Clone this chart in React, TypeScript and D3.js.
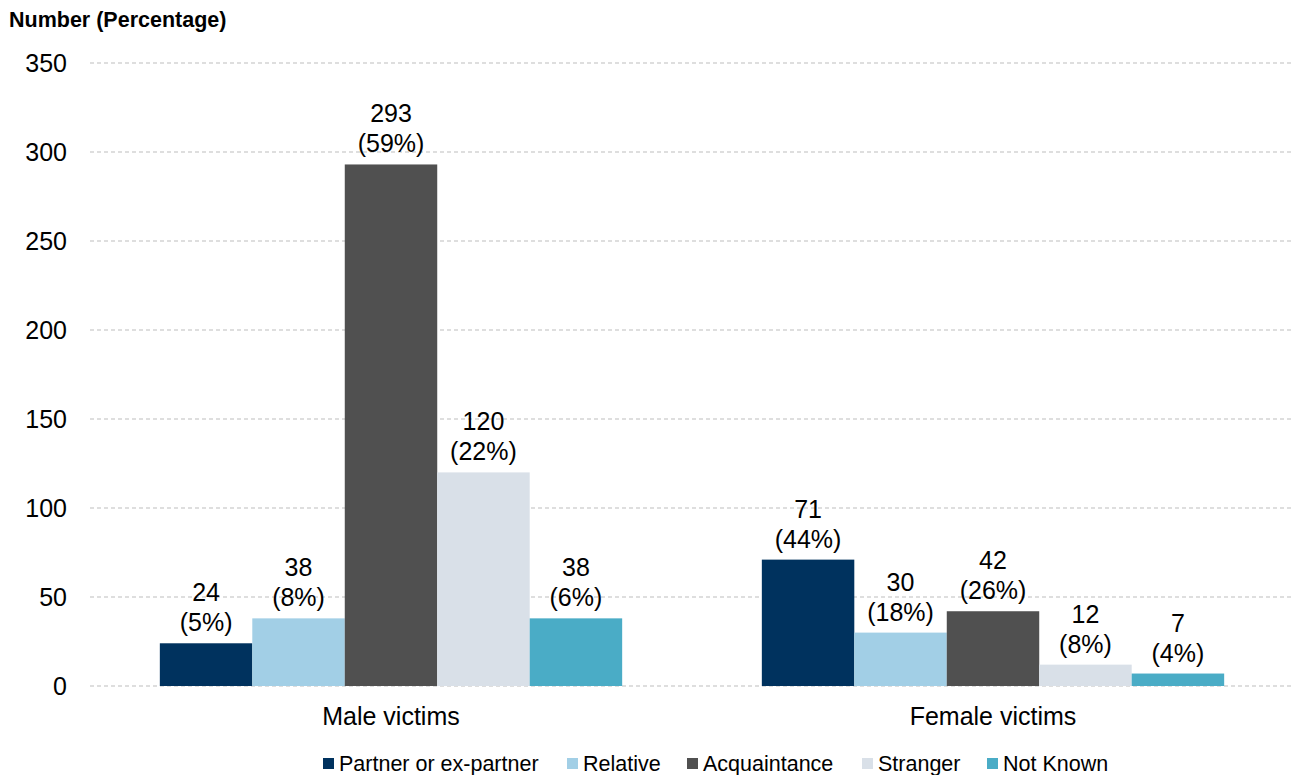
import React from "react";
import * as d3 from "d3";

const groups = ["Male victims", "Female victims"];
const seriesNames = ["Partner or ex-partner", "Relative", "Acquaintance", "Stranger", "Not Known"];
const colors = ["#00325e", "#a2cfe6", "#505050", "#d9e0e8", "#4aacc6"];
const maleValues = [24, 38, 293, 120, 38];
const malePct = ["5%", "8%", "59%", "22%", "6%"];
const femaleValues = [71, 30, 42, 12, 7];
const femalePct = ["44%", "18%", "26%", "8%", "4%"];
const yTicks = [0, 50, 100, 150, 200, 250, 300, 350];

const values = [maleValues, femaleValues];
const pcts = [malePct, femalePct];

const W = 1294, H = 775;
const left = 90, right = 1294, top = 63, bottom = 686;

export default function App() {
  const y = d3.scaleLinear().domain([0, 350]).range([bottom, top]);
  const x0 = d3.scaleBand<string>().domain(groups).range([left, right]).paddingInner(0.232).paddingOuter(0.116);
  const x1 = d3.scaleBand<string>().domain(seriesNames).range([0, x0.bandwidth()]);
  const font = "Arial, 'Liberation Sans', sans-serif";

  const legendX = [323, 567, 687, 862, 987];

  return (
    <svg width={W} height={H} style={{ position: "absolute", left: 0, top: 0, fontFamily: font }}>
      <text x={9} y={27} fontSize={21.5} fontWeight="bold" fill="#000">Number (Percentage)</text>
      {yTicks.map((t) => (
        <g key={t}>
          <line x1={left} x2={right} y1={y(t)} y2={y(t)} stroke="#bdbdbd" strokeWidth={1} strokeDasharray="4,3" />
          <text x={67} y={y(t)} dy="0.35em" textAnchor="end" fontSize={25} fill="#000">{t}</text>
        </g>
      ))}
      {groups.map((g, gi) => (
        <g key={g} transform={`translate(${x0(g)},0)`}>
          {seriesNames.map((s, si) => {
            const v = values[gi][si];
            const bx = x1(s)!;
            const bw = x1.bandwidth();
            return (
              <g key={s}>
                <rect x={bx} y={y(v)} width={bw} height={y(0) - y(v)} fill={colors[si]} />
                <text x={bx + bw / 2} y={y(v) - 42} textAnchor="middle" fontSize={25} fill="#000">{v}</text>
                <text x={bx + bw / 2} y={y(v) - 12} textAnchor="middle" fontSize={25} fill="#000">({pcts[gi][si]})</text>
              </g>
            );
          })}
          <text x={x0.bandwidth() / 2} y={725} textAnchor="middle" fontSize={25} fill="#000">{g}</text>
        </g>
      ))}
      {seriesNames.map((s, si) => (
        <g key={s}>
          <rect x={legendX[si]} y={758} width={11} height={11} fill={colors[si]} />
          <text x={legendX[si] + 16} y={771} fontSize={21.5} fill="#000">{s}</text>
        </g>
      ))}
    </svg>
  );
}
